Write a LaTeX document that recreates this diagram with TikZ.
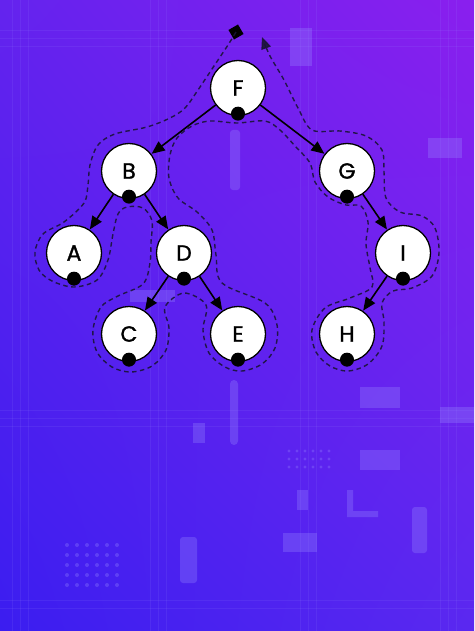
\documentclass[tikz,border=0pt]{standalone}
\usepackage{fontspec}
\setmainfont{Poppins}
\newfontfamily\nodefont[FakeBold=1.3]{Poppins}
\usetikzlibrary{arrows.meta,shadings}
\definecolor{bgTL}{HTML}{6423EE}
\definecolor{bgTR}{HTML}{8A1FEE}
\definecolor{bgBL}{HTML}{3B1DF0}
\definecolor{bgBR}{HTML}{5A28F0}
\definecolor{trace}{HTML}{9A8CFF}
\definecolor{tourcol}{HTML}{1A1438}
\tikzset{
  treenode/.style={circle, draw=black, line width=1.3pt, fill=white, minimum size=55pt, inner sep=0pt, font=\nodefont\fontsize{22}{22}\selectfont},
  treeedge/.style={-{Triangle[length=13pt,width=11pt]}, line width=1.6pt, black, shorten >=0.3pt},
  postdot/.style={fill=black},
  tour/.style={draw=tourcol, opacity=0.9, line width=1.4pt, dash pattern=on 4.5pt off 3.5pt, -{Triangle[length=12pt,width=10pt]}},
  deco/.style={fill=trace, opacity=0.3},
  decoline/.style={draw=trace, opacity=0.12, line width=0.8pt},
}
\begin{document}
\begin{tikzpicture}[x=1pt,y=-1pt]
% background
\shade[lower left=bgBL, lower right=bgBR, upper left=bgTL, upper right=bgTR] (0,0) rectangle (474,631);
\useasboundingbox (0,0) rectangle (474,631);
% faint circuit decoration
\foreach \xx in {12,20,28,150,158,166,300,308,316,440,448,456} {\draw[decoline] (\xx,0) -- (\xx,631);}
\foreach \yy in {30,38,46,410,418,426,600,608} {\draw[decoline] (0,\yy) -- (474,\yy);}
\fill[deco, rounded corners=4pt] (230,380) rectangle (238,445);
\fill[deco] (360,387) rectangle (400,408);
\fill[deco] (440,407) rectangle (474,423);
\fill[deco] (193,423) rectangle (205,443);
\fill[deco] (297,490) rectangle (308,510);
\fill[deco] (283,533) rectangle (317,552);
\fill[deco, rounded corners=3pt] (180,537) rectangle (197,583);
\fill[deco, rounded corners=3pt] (412,507) rectangle (427,553);
\fill[deco] (347,490) rectangle (353,517) -- (378,517) -- (378,511) -- (353,511);
\fill[deco] (290,28) rectangle (312,66);
\fill[deco] (428,138) rectangle (462,158);
\fill[deco, rounded corners=3pt] (230,130) rectangle (240,190);
\fill[deco] (130,290) rectangle (175,302);
\fill[deco] (360,450) rectangle (400,470);
\foreach \xx in {67,77,87,97,107,117} {\foreach \yy in {545,555,565,575,585} {\fill[deco] (\xx,\yy) circle (2);}}
\foreach \xx in {289,297,305,313,321,329} {\foreach \yy in {451,459,467} {\fill[deco] (\xx,\yy) circle (1.6);}}
% nodes
\node[treenode] (F) at (238,88) {F};
\node[treenode] (B) at (129,171) {B};
\node[treenode] (G) at (347,171) {G};
\node[treenode] (A) at (74,253) {A};
\node[treenode] (D) at (184,253) {D};
\node[treenode] (I) at (403,253) {I};
\node[treenode] (C) at (129,334) {C};
\node[treenode] (E) at (238,334) {E};
\node[treenode] (H) at (347,334) {H};
% edges
\draw[treeedge] (F) -- (B);
\draw[treeedge] (F) -- (G);
\draw[treeedge] (B) -- (A);
\draw[treeedge] (B) -- (D);
\draw[treeedge] (D) -- (C);
\draw[treeedge] (D) -- (E);
\draw[treeedge] (G) -- (I);
\draw[treeedge] (I) -- (H);
% post-order dots
\foreach \n in {F,B,G,A,D,I,C,E,H} {\fill[postdot] ([yshift=2.5pt]\n.south) circle (7);}
% start marker
\node[fill=black, minimum size=11pt, inner sep=0pt, rotate=30] (start) at (236,32) {};
\coordinate (finish) at (262,37);
% Euler tour contour
\draw[tour] plot[smooth, tension=0.55] coordinates {
(start)
(228,45) (214,66) (198,90) (185,108) (170,118) (147,127) (115,134) (98,145)
(90,165) (88,185) (84,203) (64,222) (43,234) (35,252) (39,270) (52,281)
(74,287) (97,280) (108,260) (113,234) (118,214) (127,207) (143,208)
(152,221) (151,242) (150,263) (143,284) (118,296) (101,307) (93,330)
(97,352) (112,367) (131,372) (152,366) (166,350) (169,328) (165,307)
(184,293) (206,305) (203,330) (209,353) (225,367) (242,371) (262,364)
(275,348) (277,325) (265,303) (222,283) (216,255) (212,230) (197,212)
(178,198) (169,178) (170,155) (177,138) (192,126) (210,121) (237,123)
(265,121) (280,130) (295,146) (310,163) (315,182) (328,197) (346,205)
(361,206) (368,222) (366,244) (370,268) (372,287) (350,298) (325,308)
(312,330) (316,352) (330,366) (348,371) (368,364) (382,346) (384,322)
(382,303) (393,291) (412,288) (432,276) (439,253) (435,228) (422,216)
(400,212) (386,198) (384,172) (382,150) (366,136) (340,131) (312,130)
(298,108) (284,80) (270,56) (finish)
};
\end{tikzpicture}
\end{document}
